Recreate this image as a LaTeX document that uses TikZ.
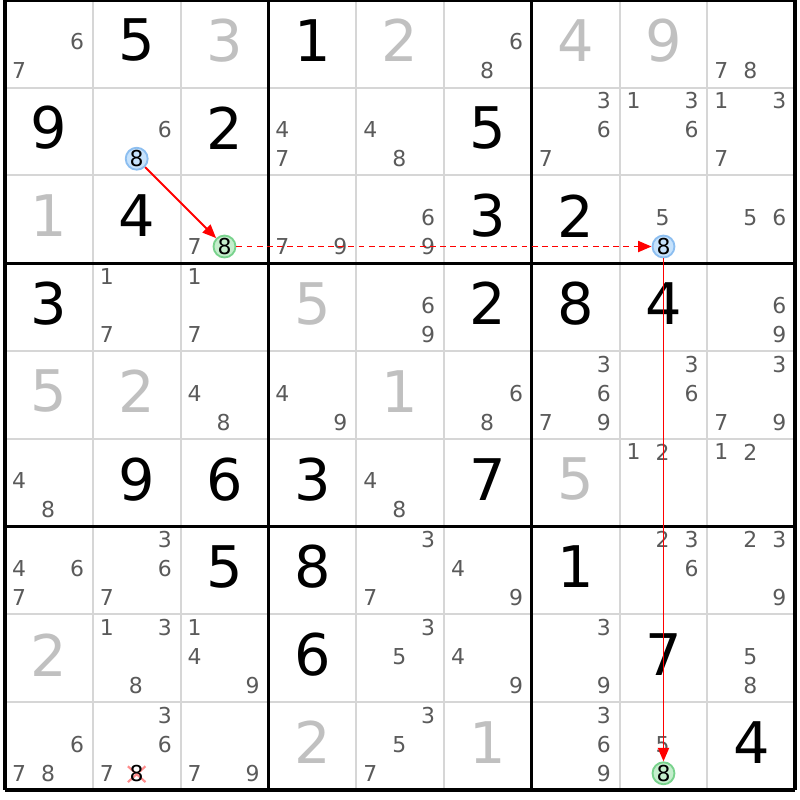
\documentclass[tikz,border=0pt]{standalone}
\usepackage{fontspec}
\setmainfont{DejaVu Sans}
\usetikzlibrary{arrows.meta}

\definecolor{candgray}{RGB}{90,90,90}
\definecolor{solvedgray}{RGB}{192,192,192}
\definecolor{gridgray}{RGB}{214,214,214}
\definecolor{onblue}{RGB}{198,226,252}
\definecolor{onblueline}{RGB}{140,190,240}
\definecolor{ongreen}{RGB}{196,238,204}
\definecolor{ongreenline}{RGB}{120,210,140}

\begin{document}
\begin{tikzpicture}[line width=0.6pt,
  given/.style={inner sep=0, text=black, font=\fontsize{18.6}{20}\selectfont},
  solved/.style={given, text=solvedgray},
  cand/.style={inner sep=0, text=candgray, font=\fontsize{7.1}{8}\selectfont},
  onblue/.style={circle, inner sep=0, minimum size=0.25cm, fill=onblue, draw=onblueline, text=black, font=\fontsize{7.1}{8}\selectfont},
  ongreen/.style={onblue, fill=ongreen, draw=ongreenline},
  link/.style={draw=red, line width=0.6pt, -{Triangle[length=4.4pt,width=3.6pt]}},
  weak/.style={link, dash pattern=on 1.9pt off 1.4pt}]
\useasboundingbox (-0.057,-0.114) rectangle (9.055,8.998);

% thin cell lines
\foreach \i in {1,2,4,5,7,8} {
  \draw[gridgray] (\i,0) -- (\i,9);
  \draw[gridgray] (0,\i) -- (9,\i);
}

% given digits
\foreach \c/\r/\d in {2/1/5, 4/1/1, 1/2/9, 3/2/2, 6/2/5, 2/3/4, 6/3/3, 7/3/2,
  1/4/3, 6/4/2, 7/4/8, 8/4/4, 2/6/9, 3/6/6, 4/6/3, 6/6/7,
  3/7/5, 4/7/8, 7/7/1, 4/8/6, 8/8/7, 9/9/4}
  \node[given] (g-\c-\r) at (\c-0.5,9.54-\r) {\d};

% solved digits
\foreach \c/\r/\d in {3/1/3, 5/1/2, 7/1/4, 8/1/9, 1/3/1, 4/4/5, 1/5/5, 2/5/2, 5/5/1,
  7/6/5, 1/8/2, 4/9/2, 6/9/1}
  \node[solved] (s-\c-\r) at (\c-0.5,9.54-\r) {\d};

% candidates
\foreach \c/\r/\ds in {1/1/{6,7}, 6/1/{6,8}, 9/1/{7,8},
  2/2/{6}, 4/2/{4,7}, 5/2/{4,8}, 7/2/{3,6,7}, 8/2/{1,3,6}, 9/2/{1,3,7},
  3/3/{7}, 4/3/{7,9}, 5/3/{6,9}, 8/3/{5}, 9/3/{5,6},
  2/4/{1,7}, 3/4/{1,7}, 5/4/{6,9}, 9/4/{6,9},
  3/5/{4,8}, 4/5/{4,9}, 6/5/{6,8}, 7/5/{3,6,7,9}, 8/5/{3,6}, 9/5/{3,7,9},
  1/6/{4,8}, 5/6/{4,8}, 8/6/{1,2}, 9/6/{1,2},
  1/7/{4,6,7}, 2/7/{3,6,7}, 5/7/{3,7}, 6/7/{4,9}, 8/7/{2,3,6}, 9/7/{2,3,9},
  2/8/{1,3,8}, 3/8/{1,4,9}, 5/8/{3,5}, 6/8/{4,9}, 7/8/{3,9}, 9/8/{5,8},
  1/9/{6,7,8}, 2/9/{3,6,7}, 3/9/{7,9}, 5/9/{3,5,7}, 7/9/{3,6,9}, 8/9/{5}} {
  \foreach \d in \ds {
    \pgfmathsetmacro\px{\c-0.51+(mod(\d-1,3)-1)*0.33}
    \pgfmathsetmacro\py{9.85-\r-int((\d-1)/3)*0.33}
    \node[cand] (k-\c-\r-\d) at (\px,\py) {\d};
  }
}

% eliminated 8
\draw[red!45, line width=0.7pt] (1.4,0.09) -- (1.6,0.27) (1.4,0.27) -- (1.6,0.09);
\node[inner sep=0, text=black, font=\fontsize{7.1}{8}\selectfont] (r9c2) at (1.5,0.19) {8};

% box and border lines
\foreach \i in {0,3,6,9} {
  \draw[line width=1.1pt] (\i,0) -- (\i,9);
  \draw[line width=1.1pt] (0,\i) -- (9,\i);
}

% chain
\node[onblue] (r2c2) at (1.5,7.19) {8};
\node[ongreen] (r3c3) at (2.5,6.19) {8};
\node[onblue] (r3c8) at (7.5,6.19) {8};
\node[ongreen] (r9c8) at (7.5,0.19) {8};
\draw[link] (r2c2) -- (r3c3);
\draw[weak] (r3c3) -- (r3c8);
\draw[link] (r3c8) -- (r9c8);
\end{tikzpicture}
\end{document}
